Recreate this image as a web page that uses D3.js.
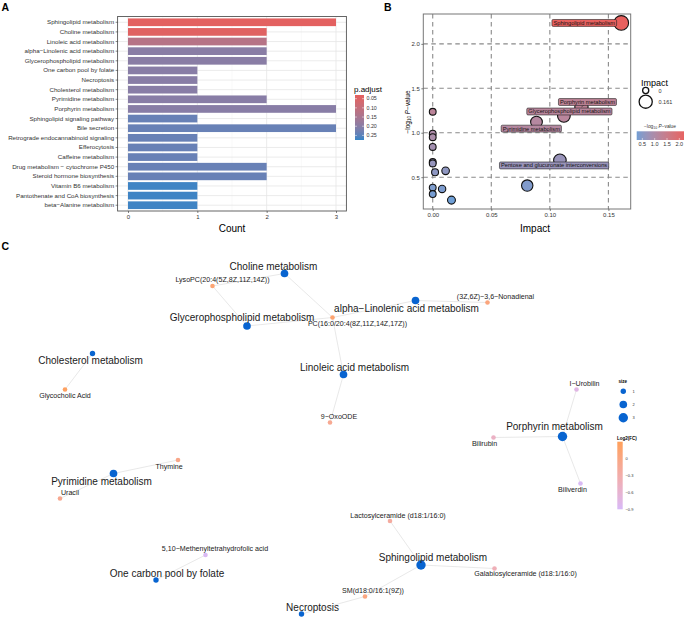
<!DOCTYPE html>
<html>
<head>
<meta charset="utf-8">
<script src="https://cdn.jsdelivr.net/npm/d3@7"></script>
<style>
  body { margin: 0; background: #fff; }
  svg { font-family: "Liberation Sans", Arial, Helvetica, sans-serif; }
</style>
</head>
<body>
<main></main>
<script>
// ---- panel A data: enrichment bar chart ----
var pathways = ["Sphingolipid metabolism", "Choline metabolism", "Linoleic acid metabolism",
  "alpha\u2212Linolenic acid metabolism", "Glycerophospholipid metabolism", "One carbon pool by folate",
  "Necroptosis", "Cholesterol metabolism", "Pyrimidine metabolism", "Porphyrin metabolism",
  "Sphingolipid signaling pathway", "Bile secretion", "Retrograde endocannabinoid signaling",
  "Efferocytosis", "Caffeine metabolism", "Drug metabolism \u2212 cytochrome P450",
  "Steroid hormone biosynthesis", "Vitamin B6 metabolism", "Pantothenate and CoA biosynthesis",
  "beta\u2212Alanine metabolism"];
var counts = [3, 2, 2, 2, 2, 1, 1, 1, 2, 3, 1, 3, 1, 1, 1, 2, 2, 1, 1, 1];
var padj = [0.035, 0.04, 0.125, 0.198, 0.198, 0.2, 0.2, 0.2, 0.2, 0.2,
  0.238, 0.238, 0.238, 0.238, 0.238, 0.238, 0.238, 0.27, 0.27, 0.27];
var countTicks = [0, 1, 2, 3];
var padjTicks = [0.05, 0.10, 0.15, 0.20, 0.25];

// ---- panel B data: pathway impact ----
var impactNames = ["Sphingolipid metabolism", "Porphyrin metabolism", "Glycerophospholipid metabolism",
  "Pyrimidine metabolism", "Pentose and glucuronate interconversions", "", "", "", "", "", "", "",
  "", "", "", "", "", ""];
var impact = [0.161, 0.127, 0.112, 0.0886, 0.1086, 0.0807, 0, 0, 0, 0, 0, 0, 0.002, 0.011, 0, 0, 0.008, 0.016];
var logP = [2.236, 1.29, 1.19, 1.12, 0.69, 0.406, 1.236, 0.99, 0.95, 0.84, 0.67, 0.655, 0.556, 0.571, 0.383, 0.31, 0.368, 0.242];
var impactTicks = [0, 0.05, 0.10, 0.15];
var logPTicks = [0.5, 1.0, 1.5, 2.0];
// ggrepel-like label nudges (px)
var labelNudge = [[-37, 0], [6, -5], [5.5, -4.4], [-5.2, 6.5], [-5.8, 5.1]];

// ---- panel C data: pathway / metabolite network ----
var netPathways = ["Choline metabolism", "Glycerophospholipid metabolism", "alpha\u2212Linolenic acid metabolism",
  "Linoleic acid metabolism", "Cholesterol metabolism", "Porphyrin metabolism", "Pyrimidine metabolism",
  "One carbon pool by folate", "Sphingolipid metabolism", "Necroptosis"];
var netSize = [2, 2, 2, 2, 1, 3, 2, 1, 3, 1];
var metabolites = ["LysoPC(20:4(5Z,8Z,11Z,14Z))", "PC(16:0/20:4(8Z,11Z,14Z,17Z))", "(3Z,6Z)\u22123,6\u2212Nonadienal",
  "9\u2212OxoODE", "Glycocholic Acid", "I\u2212Urobilin", "Bilirubin", "Biliverdin", "Thymine", "Uracil",
  "Lactosylceramide (d18:1/16:0)", "5,10\u2212Methenyltetrahydrofolic acid", "Galabiosylceramide (d18:1/16:0)",
  "SM(d18:0/16:1(9Z))"];
var log2FC = [0.12, 0.15, 0.05, -0.12, 0.25, -0.75, -0.5, -0.88, -0.05, -0.1, -0.22, -0.86, -0.4, 0.02];
var fcTicks = [0, -0.3, -0.6, -0.9];
var edges = [[0, 0], [0, 1], [1, 0], [1, 1], [2, 1], [2, 2], [3, 1], [3, 3], [4, 4],
  [5, 5], [5, 6], [5, 7], [6, 8], [6, 9], [7, 11], [8, 10], [8, 12], [8, 13], [9, 13]];
var sizeTicks = [1, 2, 3];

// graph layout (layout units) and label nudges (px)
var pathLayout = [[-0.71, 3.33], [-1.46, 2.28], [1.91, 2.79], [0.47, 1.31], [-4.55, 1.73],
  [4.85, 0.07], [-4.13, -0.67], [-3.28, -2.80], [2.02, -2.50], [-0.37, -3.48]];
var pathLabelNudge = [[-11, -7], [-5, -9], [-9, 8], [11, -7], [-2, 7], [-8, -10], [-12, 8], [11, -7], [12, -7.5], [11, -7]];
var metLayout = [[-2.15, 3.08], [0.25, 2.45], [3.35, 2.75], [0.20, 0.35], [-5.10, 1.01], [5.13, 1.01],
  [3.47, 0.05], [5.21, -0.87], [-2.84, -0.40], [-5.20, -1.17], [1.40, -1.62], [-2.29, -2.30],
  [3.49, -2.57], [0.90, -3.13]];
var metLabelNudge = [[10, -6], [25, 6], [8, -6], [9, -6], [0, 6.4], [8, -6], [-9, 6], [-8, 6],
  [-9, 6.7], [10, -6], [8, -5], [9.5, -6.7], [31, 5], [8, -6]];

var svg = d3.select("main").append("svg").attr("width", 685).attr("height", 617);

function panelLetter(t, x, y) {
  svg.append("text").attr("x", x).attr("y", y).attr("font-size", 10.5).attr("font-weight", "bold").text(t);
}
panelLetter("A", 1.5, 10.8);
panelLetter("B", 384, 10.8);
panelLetter("C", 1.5, 250);

function styleAxis(ax, fs) {
  ax.select(".domain").remove();
  ax.selectAll("text").attr("font-size", fs).attr("fill", "#333").attr("font-family", null);
  ax.selectAll("line").attr("stroke", "#333").attr("stroke-width", 0.6);
}

// ================= Panel A =================
var xA = d3.scaleLinear().domain([-0.15, 3.15]).range([117.6, 346.4]);
var yA = d3.scaleBand().domain(pathways).range([16.5, 211]).paddingInner(0.2).paddingOuter(0.2);
var pColor = d3.scaleLinear().domain([0.03, 0.275]).range(["#e5605e", "#3584c6"]).interpolate(d3.interpolateLab);

var gA = svg.append("g");
gA.selectAll(".minor").data([0.5, 1.5, 2.5]).enter().append("line")
  .attr("x1", xA).attr("x2", xA).attr("y1", 16.5).attr("y2", 211)
  .attr("stroke", "#f0f0f0").attr("stroke-width", 0.4);
gA.selectAll(".vmaj").data(countTicks).enter().append("line")
  .attr("x1", xA).attr("x2", xA).attr("y1", 16.5).attr("y2", 211)
  .attr("stroke", "#e6e6e6").attr("stroke-width", 0.8);
gA.selectAll(".hmaj").data(pathways).enter().append("line")
  .attr("x1", 117.6).attr("x2", 346.4)
  .attr("y1", function(d) { return yA(d) + yA.bandwidth() / 2; })
  .attr("y2", function(d) { return yA(d) + yA.bandwidth() / 2; })
  .attr("stroke", "#e6e6e6").attr("stroke-width", 0.8);
gA.selectAll("rect.bar").data(pathways).enter().append("rect")
  .attr("class", "bar")
  .attr("x", xA(0))
  .attr("y", function(d) { return yA(d); })
  .attr("width", function(d, i) { return xA(counts[i]) - xA(0); })
  .attr("height", yA.bandwidth())
  .attr("fill", function(d, i) { return pColor(padj[i]); });
gA.append("rect").attr("x", 117.6).attr("y", 16.5).attr("width", 346.4 - 117.6).attr("height", 211 - 16.5)
  .attr("fill", "none").attr("stroke", "#555").attr("stroke-width", 0.9);

var axAy = gA.append("g").attr("transform", "translate(117.6,0)")
  .call(d3.axisLeft(yA).tickSize(2).tickPadding(1.5));
styleAxis(axAy, 6.2);
var axAx = gA.append("g").attr("transform", "translate(0,211)")
  .call(d3.axisBottom(xA).tickValues(countTicks).tickFormat(d3.format("d")).tickSize(2).tickPadding(1.5));
styleAxis(axAx, 6);
gA.append("text").attr("x", xA(1.5)).attr("y", 231.5).attr("text-anchor", "middle")
  .attr("font-size", 10).text("Count");

// legend p.adjust
var defs = svg.append("defs");
var gradA = defs.append("linearGradient").attr("id", "gradA").attr("x1", 0).attr("y1", 0).attr("x2", 0).attr("y2", 1);
d3.range(0, 1.01, 0.1).forEach(function(t) {
  gradA.append("stop").attr("offset", t).attr("stop-color", pColor(0.03 + t * 0.245));
});
var legAy = d3.scaleLinear().domain([0.03, 0.275]).range([95, 140]);
svg.append("text").attr("x", 354).attr("y", 92).attr("font-size", 8).text("p.adjust");
svg.append("rect").attr("x", 355).attr("y", 95).attr("width", 9).attr("height", 45).attr("fill", "url(#gradA)");
svg.selectAll(".pat").data(padjTicks).enter().append("line")
  .attr("x1", 355).attr("x2", 357).attr("y1", legAy).attr("y2", legAy).attr("stroke", "#fff").attr("stroke-width", 0.5);
svg.selectAll(".pat2").data(padjTicks).enter().append("line")
  .attr("x1", 362).attr("x2", 364).attr("y1", legAy).attr("y2", legAy).attr("stroke", "#fff").attr("stroke-width", 0.5);
svg.selectAll(".patl").data(padjTicks).enter().append("text")
  .attr("x", 366.5).attr("y", function(d) { return legAy(d) + 1.8; })
  .attr("font-size", 5.3).attr("fill", "#333").text(function(d) { return d.toFixed(2); });

// ================= Panel B =================
var xB = d3.scaleLinear().domain([-0.00805, 0.16905]).range([423.3, 630.7]);
var yB = d3.scaleLinear().domain([0.142, 2.336]).range([209, 14]);
var rB = d3.scaleLinear().domain([0, 0.161]).range([3.4 * 3.4, 7.3 * 7.3]);
var lpColor = d3.scaleLinear().domain([0.242, 2.236]).range(["#6f9fd6", "#e8605e"]).interpolate(d3.interpolateLab);
function radB(v) { return Math.sqrt(rB(v)); }

var gB = svg.append("g");
gB.selectAll(".gx").data(impactTicks).enter().append("line")
  .attr("x1", xB).attr("x2", xB).attr("y1", 14).attr("y2", 209)
  .attr("stroke", "#8a8a8a").attr("stroke-width", 1.1).attr("stroke-dasharray", "4.5,3.5");
gB.selectAll(".gy").data(logPTicks).enter().append("line")
  .attr("x1", 423.3).attr("x2", 630.7).attr("y1", yB).attr("y2", yB)
  .attr("stroke", "#8a8a8a").attr("stroke-width", 1.1).attr("stroke-dasharray", "4.5,3.5");
gB.append("rect").attr("x", 423.3).attr("y", 14).attr("width", 630.7 - 423.3).attr("height", 195)
  .attr("fill", "none").attr("stroke", "#777").attr("stroke-width", 1);

var axBx = gB.append("g").attr("transform", "translate(0,209)")
  .call(d3.axisBottom(xB).tickValues(impactTicks).tickFormat(d3.format(".2f")).tickSize(2).tickPadding(1.5));
styleAxis(axBx, 6);
var axBy = gB.append("g").attr("transform", "translate(423.3,0)")
  .call(d3.axisLeft(yB).tickValues(logPTicks).tickFormat(d3.format(".1f")).tickSize(2).tickPadding(1.5));
styleAxis(axBy, 6);

gB.append("text").attr("x", 535).attr("y", 231.5).attr("text-anchor", "middle").attr("font-size", 10).text("Impact");
var yt = gB.append("text").attr("transform", "translate(409.5,112) rotate(-90)").attr("text-anchor", "middle").attr("font-size", 6.5);
yt.append("tspan").text("\u2212log");
yt.append("tspan").attr("font-size", 4.5).attr("dy", 1.5).text("10");
yt.append("tspan").attr("dy", -1.5).text(" ");
yt.append("tspan").attr("font-style", "italic").text("P");
yt.append("tspan").text("\u2212value");

var idxB = d3.range(impact.length);
gB.selectAll("circle.pt").data(idxB).enter().append("circle")
  .attr("class", "pt")
  .attr("cx", function(i) { return xB(impact[i]); })
  .attr("cy", function(i) { return yB(logP[i]); })
  .attr("r", function(i) { return radB(impact[i]); })
  .attr("fill", function(i) { return lpColor(logP[i]); })
  .attr("stroke", "#111").attr("stroke-width", 1.1);

var labelled = idxB.filter(function(i) { return impactNames[i] !== ""; });
// short leader for the Porphyrin label
gB.append("line")
  .attr("x1", xB(impact[1])).attr("y1", yB(logP[1]))
  .attr("x2", xB(impact[1]) + labelNudge[1][0]).attr("y2", yB(logP[1]) + labelNudge[1][1])
  .attr("stroke", "#111").attr("stroke-width", 0.6);
labelled.forEach(function(i) {
  var cx = xB(impact[i]) + labelNudge[i][0], cy = yB(logP[i]) + labelNudge[i][1];
  var lg = gB.append("g");
  var bg = lg.append("rect");
  var t = lg.append("text").attr("x", cx).attr("y", cy + 2).attr("text-anchor", "middle")
    .attr("font-size", 5.7).attr("fill", "#111").text(impactNames[i]);
  var w = t.node().getComputedTextLength();
  bg.attr("x", cx - w / 2 - 1.5).attr("y", cy - 3.4).attr("width", w + 3).attr("height", 6.9)
    .attr("rx", 1.2).attr("fill", lpColor(logP[i])).attr("stroke", "#222").attr("stroke-width", 0.6);
});

// legend Impact
svg.append("text").attr("x", 641).attr("y", 85.5).attr("font-size", 9).text("Impact");
svg.selectAll(".ilc").data([0, 0.161]).enter().append("circle")
  .attr("cx", 645.7).attr("cy", function(d, i) { return i === 0 ? 90.5 : 101.7; })
  .attr("r", function(d) { return radB(d) * 0.9; })
  .attr("fill", "none").attr("stroke", "#111").attr("stroke-width", 1.3);
svg.selectAll(".ilt").data([0, 0.161]).enter().append("text")
  .attr("x", 658.5).attr("y", function(d, i) { return i === 0 ? 92.5 : 103.7; })
  .attr("font-size", 5.5).attr("fill", "#333").text(function(d) { return d === 0 ? "0" : "0.161"; });

var lt = svg.append("text").attr("x", 660).attr("y", 127.5).attr("text-anchor", "middle").attr("font-size", 4.8).attr("fill", "#333");
lt.append("tspan").text("\u2212log");
lt.append("tspan").attr("font-size", 3.5).attr("dy", 1).text("10");
lt.append("tspan").attr("dy", -1).text(" ");
lt.append("tspan").attr("font-style", "italic").text("P");
lt.append("tspan").text("\u2212value");
var gradB = defs.append("linearGradient").attr("id", "gradB");
d3.range(0, 1.01, 0.1).forEach(function(t) {
  gradB.append("stop").attr("offset", t).attr("stop-color", lpColor(0.27 + t * 1.92));
});
var legBx = d3.scaleLinear().domain([0.27, 2.19]).range([636.7, 684]);
svg.append("rect").attr("x", 636.7).attr("y", 131.3).attr("width", 684 - 636.7).attr("height", 8.7).attr("fill", "url(#gradB)");
svg.selectAll(".lbt").data(logPTicks).enter().append("line")
  .attr("x1", legBx).attr("x2", legBx).attr("y1", 138).attr("y2", 140).attr("stroke", "#fff").attr("stroke-width", 0.5);
svg.selectAll(".lbl").data(logPTicks).enter().append("text")
  .attr("x", legBx).attr("y", 145.5).attr("text-anchor", "middle")
  .attr("font-size", 5.5).attr("fill", "#333").text(function(d) { return d.toFixed(1); });

// ================= Panel C =================
var xN = d3.scaleLinear().domain([-6, 6]).range([20, 620]);
var yN = d3.scaleLinear().domain([-4, 4]).range([640, 240]);
var rN = d3.scaleLinear().domain([1, 3]).range([2.7 * 2.7, 4.7 * 4.7]);
var fcColor = d3.scaleLinear().domain([-0.9, 0.3]).range(["#d8baf8", "#ffa05a"]).interpolate(d3.interpolateLab);
var gC = svg.append("g");

gC.selectAll("line.edge").data(edges).enter().append("line")
  .attr("x1", function(e) { return xN(pathLayout[e[0]][0]); })
  .attr("y1", function(e) { return yN(pathLayout[e[0]][1]); })
  .attr("x2", function(e) { return xN(metLayout[e[1]][0]); })
  .attr("y2", function(e) { return yN(metLayout[e[1]][1]); })
  .attr("stroke", "#dedede").attr("stroke-width", 0.7);

gC.selectAll("circle.met").data(metabolites).enter().append("circle")
  .attr("cx", function(d, i) { return xN(metLayout[i][0]); })
  .attr("cy", function(d, i) { return yN(metLayout[i][1]); })
  .attr("r", 2.3)
  .attr("fill", function(d, i) { return fcColor(log2FC[i]); });
gC.selectAll("circle.path").data(netPathways).enter().append("circle")
  .attr("cx", function(d, i) { return xN(pathLayout[i][0]); })
  .attr("cy", function(d, i) { return yN(pathLayout[i][1]); })
  .attr("r", function(d, i) { return Math.sqrt(rN(netSize[i])); })
  .attr("fill", "#0864d0");

gC.selectAll("text.met").data(metabolites).enter().append("text")
  .attr("x", function(d, i) { return xN(metLayout[i][0]) + metLabelNudge[i][0]; })
  .attr("y", function(d, i) { return yN(metLayout[i][1]) + metLabelNudge[i][1] + 2.4; })
  .attr("text-anchor", "middle").attr("font-size", 7.1).attr("fill", "#1a1a1a").text(function(d) { return d; });
gC.selectAll("text.path").data(netPathways).enter().append("text")
  .attr("x", function(d, i) { return xN(pathLayout[i][0]) + pathLabelNudge[i][0]; })
  .attr("y", function(d, i) { return yN(pathLayout[i][1]) + pathLabelNudge[i][1] + 3.5; })
  .attr("text-anchor", "middle").attr("font-size", 10).attr("fill", "#1a1a1a").text(function(d) { return d; });

// legend size
svg.append("text").attr("x", 618.5).attr("y", 382.5).attr("font-size", 4.5).attr("font-weight", "bold").text("size");
svg.selectAll(".slc").data(sizeTicks).enter().append("circle")
  .attr("cx", 623.3).attr("cy", function(d, i) { return 391.3 + i * 13.2; })
  .attr("r", function(d) { return Math.sqrt(rN(d)); }).attr("fill", "#0864d0");
svg.selectAll(".slt").data(sizeTicks).enter().append("text")
  .attr("x", 632.5).attr("y", function(d, i) { return 392.8 + i * 13.2; })
  .attr("font-size", 4).attr("fill", "#333").text(function(d) { return d; });

// legend Log2(FC)
svg.append("text").attr("x", 617).attr("y", 440).attr("font-size", 4.5).attr("font-weight", "bold").text("Log2(FC)");
var gradC = defs.append("linearGradient").attr("id", "gradC").attr("x1", 0).attr("y1", 0).attr("x2", 0).attr("y2", 1);
d3.range(0, 1.01, 0.1).forEach(function(t) {
  gradC.append("stop").attr("offset", t).attr("stop-color", fcColor(0.3 - t * 1.2));
});
var legCy = d3.scaleLinear().domain([0.3, -0.9]).range([441.7, 509.3]);
svg.append("rect").attr("x", 617.3).attr("y", 441.7).attr("width", 5.4).attr("height", 67.6).attr("fill", "url(#gradC)");
svg.selectAll(".lct").data(fcTicks).enter().append("text")
  .attr("x", 625.5).attr("y", function(d) { return legCy(d) + 1.4; })
  .attr("font-size", 4).attr("fill", "#333").text(function(d) { return d === 0 ? "0" : "\u2212" + Math.abs(d).toFixed(1); });
</script>
</body>
</html>
